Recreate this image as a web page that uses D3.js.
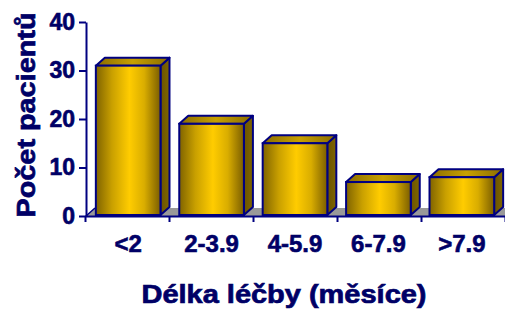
<!doctype html>
<html lang="cs">
<head>
<meta charset="UTF-8" />
<title>Délka léčby</title>
<script src="https://d3js.org/d3.v7.min.js"></script>
<style>
  html, body { margin: 0; padding: 0; background: #fff; }
</style>
</head>
<body>
<div id="chart"></div>
<script>
var categories = ['<2', '2-3.9', '4-5.9', '6-7.9', '>7.9'];
var counts = [31, 19, 15, 7, 8];
var yTicks = [0, 10, 20, 30, 40];

var width = 505, height = 314;
var navy = '#000066';
var edge = '#000080';
var dx = 9, dy = 8; // 3d depth

var svg = d3.select('#chart').append('svg')
    .attr('width', width)
    .attr('height', height)
    .style('font-family', '"Liberation Sans", Arial, sans-serif')
    .style('font-weight', 'bold');

var defs = svg.append('defs');
function grad(id, stops) {
    var g = defs.append('linearGradient').attr('id', id)
        .attr('x1', '0%').attr('x2', '100%').attr('y1', '0%').attr('y2', '0%');
    stops.forEach(function (s) {
        g.append('stop').attr('offset', s[0]).attr('stop-color', s[1]);
    });
}
grad('front', [['0%', '#7f6300'], ['25%', '#c9a000'], ['52%', '#ffcc00'], ['75%', '#d9ad00'], ['100%', '#7a5d00']]);
grad('top', [['0%', '#8a6c00'], ['50%', '#c8a000'], ['100%', '#8a6c00']]);
grad('side', [['0%', '#6a5300'], ['100%', '#806600']]);

var y = d3.scaleLinear().domain([0, 40]).range([216, 22]);
var x = d3.scaleBand().domain(categories).range([85, 505])
    .paddingInner(0.225).paddingOuter(0.13);
var xEdge = d3.scaleLinear().domain([0, categories.length]).range([85, 505]);

// floor
svg.append('path')
    .attr('d', 'M86,216 L' + (86 + dx) + ',' + (216 - dy) + ' L' + (520) + ',' + (216 - dy) + ' L520,216 Z')
    .attr('fill', '#999999');
svg.append('line')
    .attr('x1', 86).attr('y1', 216).attr('x2', 86 + dx).attr('y2', 216 - dy)
    .attr('stroke', edge).attr('stroke-width', 1.5);

// bars
var bars = svg.append('g').selectAll('g')
    .data(categories)
    .enter().append('g');

bars.each(function (c, i) {
    var g = d3.select(this);
    var x0 = x(c), x1 = x(c) + x.bandwidth();
    var yt = y(counts[i]), yb = y(0) - 1;
    g.append('path')
        .attr('d', 'M' + x1 + ',' + yt + ' L' + (x1 + dx) + ',' + (yt - dy) + ' L' + (x1 + dx) + ',' + (yb - dy) + ' L' + x1 + ',' + yb + ' Z')
        .attr('fill', 'url(#side)')
        .attr('stroke', edge).attr('stroke-width', 2).attr('stroke-linejoin', 'round');
    g.append('path')
        .attr('d', 'M' + x0 + ',' + yt + ' L' + (x0 + dx) + ',' + (yt - dy) + ' L' + (x1 + dx) + ',' + (yt - dy) + ' L' + x1 + ',' + yt + ' Z')
        .attr('fill', 'url(#top)')
        .attr('stroke', edge).attr('stroke-width', 2).attr('stroke-linejoin', 'round');
    g.append('rect')
        .attr('x', x0).attr('y', yt)
        .attr('width', x.bandwidth()).attr('height', yb - yt)
        .attr('fill', 'url(#front)')
        .attr('stroke', edge).attr('stroke-width', 2);
});

// y axis
var yAxis = svg.append('g')
    .attr('transform', 'translate(86,0)')
    .call(d3.axisLeft(y).tickValues(yTicks).tickSize(7).tickSizeOuter(0).tickPadding(4));
yAxis.select('.domain').attr('stroke', edge).attr('stroke-width', 2);
yAxis.selectAll('.tick line').attr('stroke', edge).attr('stroke-width', 2);
yAxis.selectAll('.tick text')
    .attr('fill', navy)
    .attr('stroke', navy)
    .attr('stroke-width', 0.6)
    .style('font-size', '23px')
    .style('font-family', '"Liberation Sans", Arial, sans-serif')
    .style('font-weight', 'bold');

// x axis
var xAxis = svg.append('g')
    .attr('transform', 'translate(0,216)')
    .call(d3.axisBottom(xEdge).tickValues(d3.range(categories.length + 1))
        .tickFormat('').tickSize(6).tickSizeOuter(0));
xAxis.select('.domain').attr('stroke', edge).attr('stroke-width', 2);
xAxis.selectAll('.tick line').attr('stroke', edge).attr('stroke-width', 2);

svg.append('g').selectAll('text')
    .data(categories)
    .enter().append('text')
    .attr('x', function (d) { return x(d) + x.bandwidth() / 2; })
    .attr('y', 252)
    .attr('text-anchor', 'middle')
    .attr('fill', navy)
    .attr('stroke', navy)
    .attr('stroke-width', 0.6)
    .style('font-size', '24px')
    .text(function (d) { return d; });

// titles
svg.append('text')
    .attr('x', 284).attr('y', 303)
    .attr('text-anchor', 'middle')
    .attr('fill', navy)
    .attr('stroke', navy)
    .attr('stroke-width', 0.7)
    .attr('textLength', 285)
    .attr('lengthAdjust', 'spacingAndGlyphs')
    .style('font-size', '26px')
    .text('Délka léčby (měsíce)');

svg.append('text')
    .attr('transform', 'translate(35,115) rotate(-90)')
    .attr('text-anchor', 'middle')
    .attr('fill', navy)
    .attr('stroke', navy)
    .attr('stroke-width', 0.7)
    .attr('textLength', 205)
    .attr('lengthAdjust', 'spacingAndGlyphs')
    .style('font-size', '26px')
    .text('Počet pacientů');
</script>
</body>
</html>
